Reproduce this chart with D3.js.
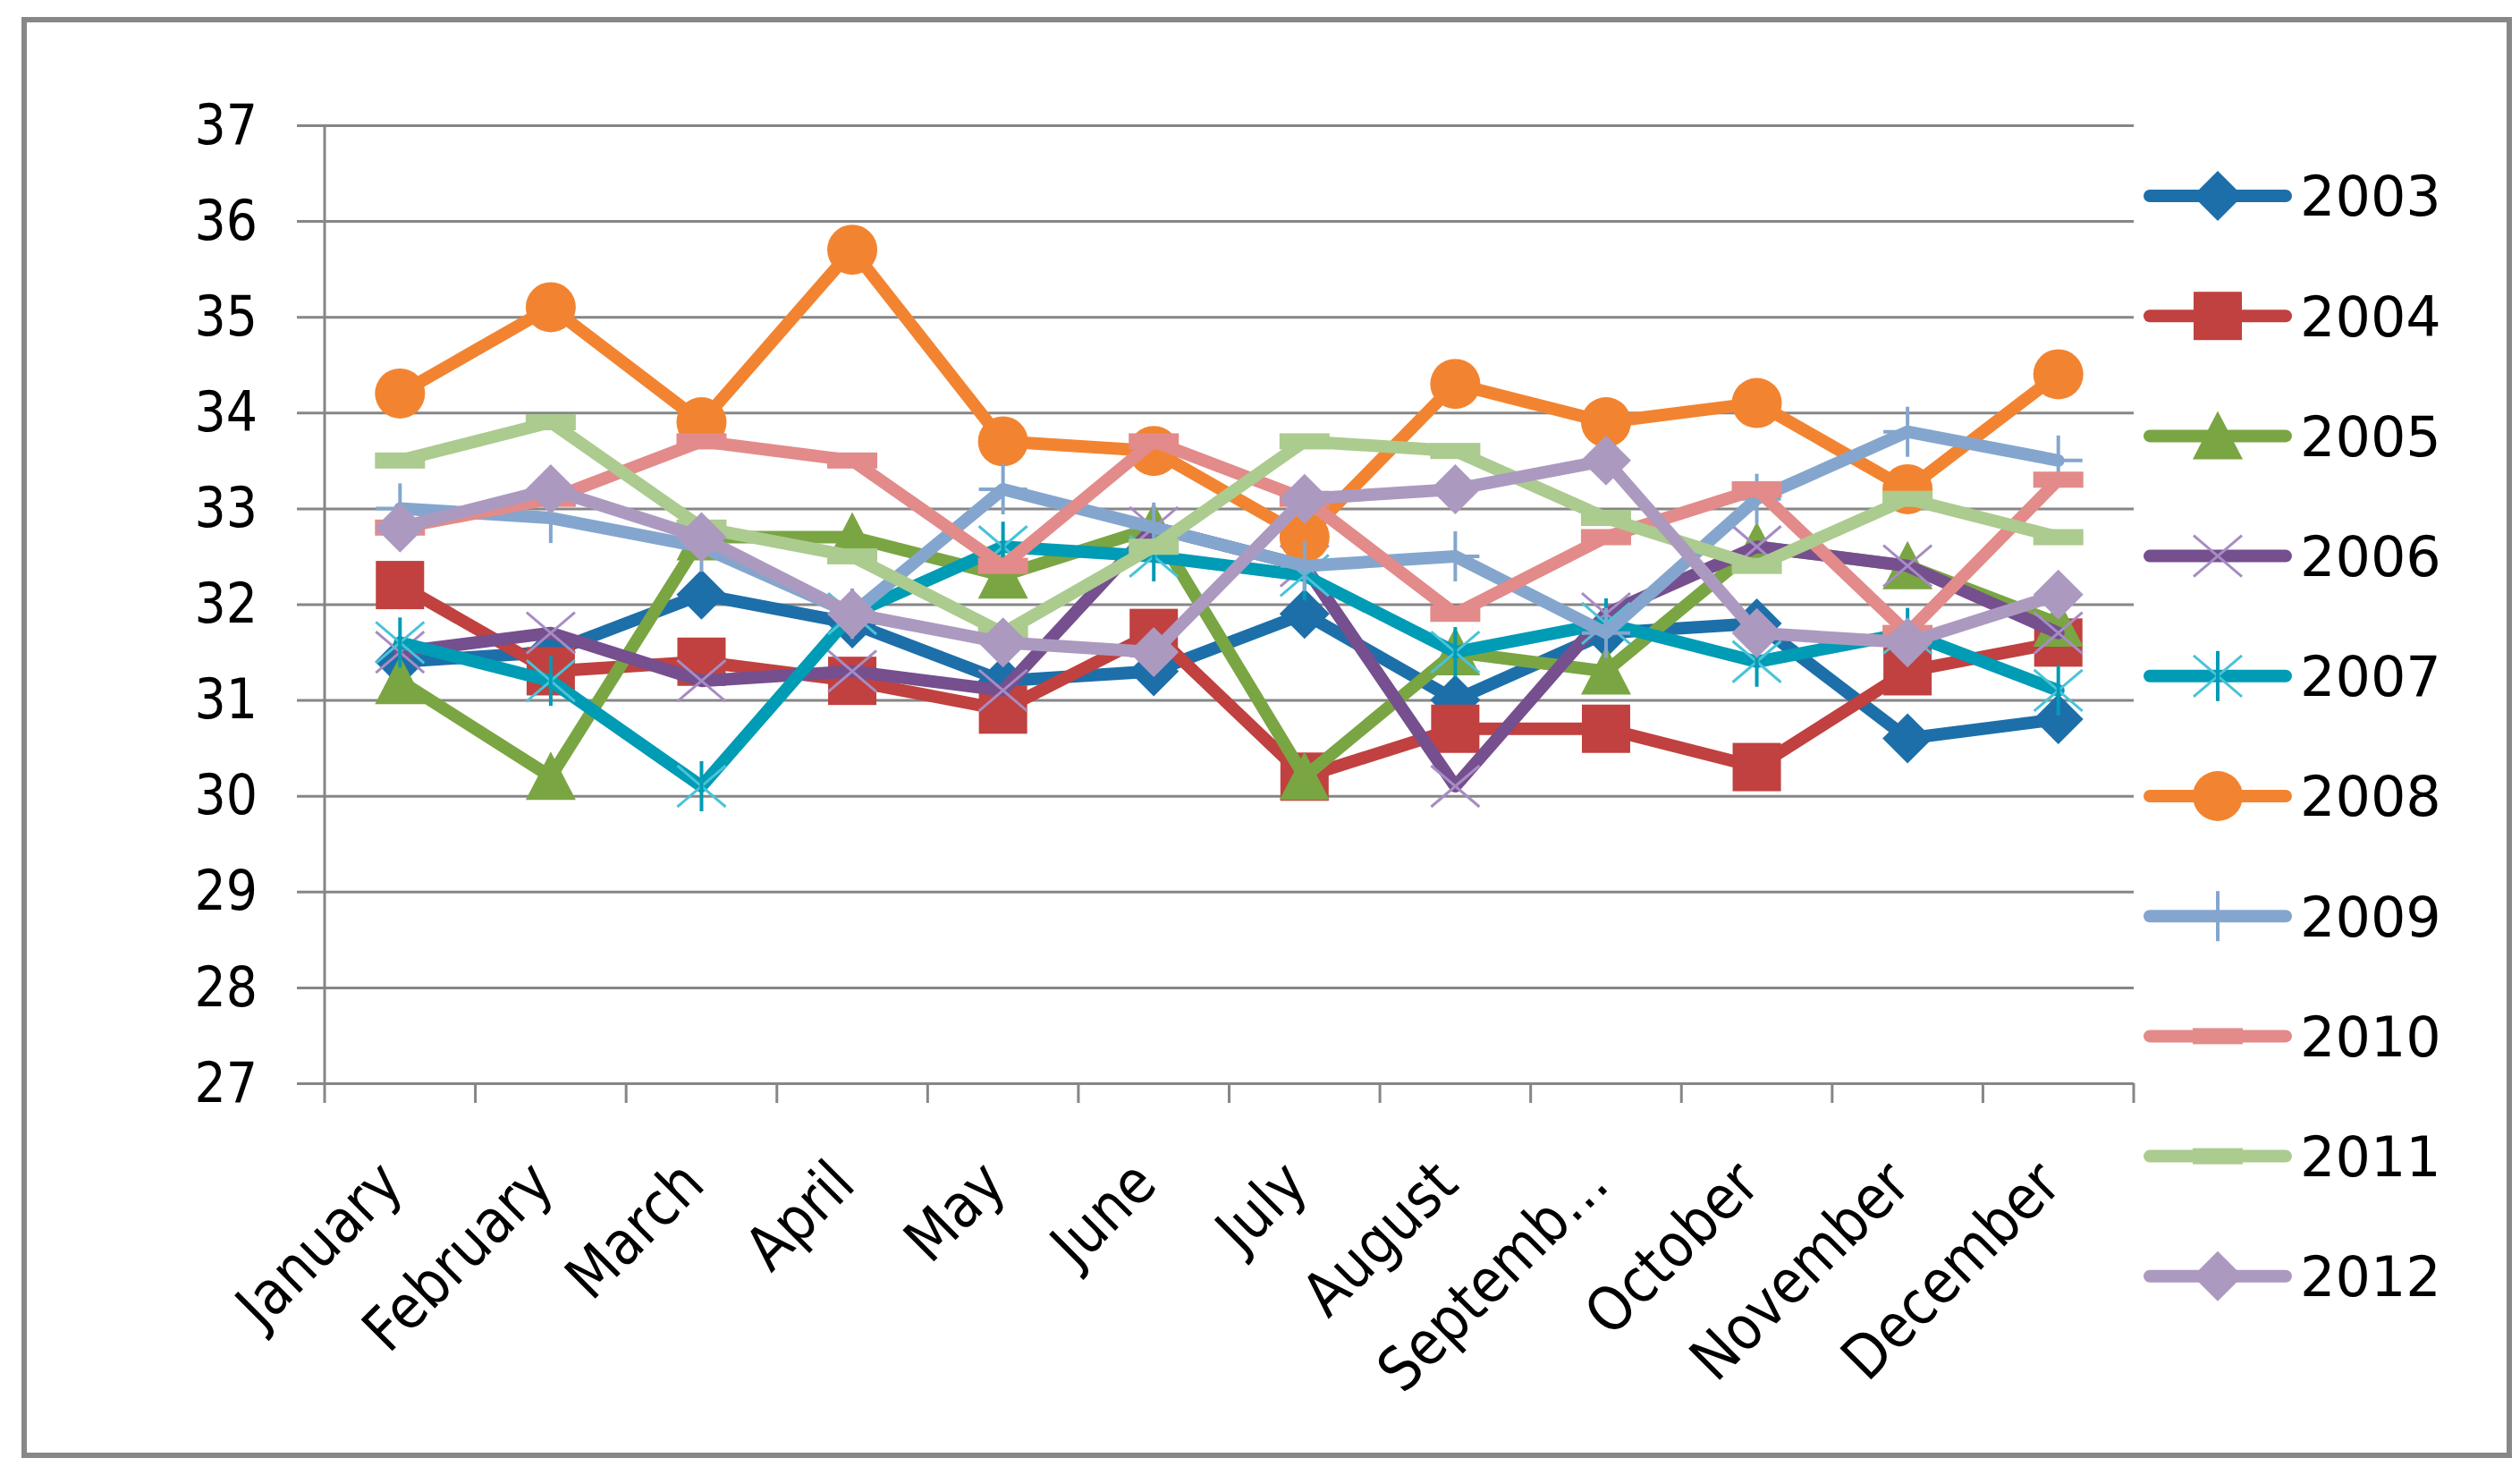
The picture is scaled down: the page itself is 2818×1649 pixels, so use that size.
<!DOCTYPE html>
<html>
<head>
<meta charset="utf-8">
<script src="https://cdn.jsdelivr.net/npm/d3@7"></script>
<style>
    body { margin: 0; background: #fff; }
    text { font-family: "DejaVu Sans", sans-serif; fill: #000; }
</style>
</head>
<body>
<svg id="chart"></svg>
<script>
// Chart data
const months = ["January", "February", "March", "April", "May", "June", "July",
    "August", "September", "October", "November", "December"];
const monthLabels = ["January", "February", "March", "April", "May", "June", "July",
    "August", "Septemb\u2026", "October", "November", "December"];
const years = ["2003", "2004", "2005", "2006", "2007", "2008", "2009", "2010", "2011", "2012"];
const yTicks = [27, 28, 29, 30, 31, 32, 33, 34, 35, 36, 37];

const v2003 = [31.4, 31.5, 32.1, 31.8, 31.2, 31.3, 31.9, 31.0, 31.7, 31.8, 30.6, 30.8];
const v2004 = [32.2, 31.3, 31.4, 31.2, 30.9, 31.7, 30.2, 30.7, 30.7, 30.3, 31.3, 31.6];
const v2005 = [31.2, 30.2, 32.7, 32.7, 32.3, 32.8, 30.2, 31.5, 31.3, 32.6, 32.4, 31.8];
const v2006 = [31.5, 31.7, 31.2, 31.3, 31.1, 32.8, 32.4, 30.1, 31.9, 32.6, 32.4, 31.7];
const v2007 = [31.6, 31.2, 30.1, 31.9, 32.6, 32.5, 32.3, 31.5, 31.8, 31.4, 31.7, 31.1];
const v2008 = [34.2, 35.1, 33.9, 35.7, 33.7, 33.6, 32.7, 34.3, 33.9, 34.1, 33.2, 34.4];
const v2009 = [33.0, 32.9, 32.6, 31.9, 33.2, 32.8, 32.4, 32.5, 31.7, 33.1, 33.8, 33.5];
const v2010 = [32.8, 33.1, 33.7, 33.5, 32.4, 33.7, 33.1, 31.9, 32.7, 33.2, 31.7, 33.3];
const v2011 = [33.5, 33.9, 32.8, 32.5, 31.7, 32.6, 33.7, 33.6, 32.9, 32.4, 33.1, 32.7];
const v2012 = [32.8, 33.2, 32.7, 31.9, 31.6, 31.5, 33.1, 33.2, 33.5, 31.7, 31.6, 32.1];

const seriesValues = [v2003, v2004, v2005, v2006, v2007, v2008, v2009, v2010, v2011, v2012];
const colors = ["#1d6fa9", "#c0413f", "#7aa543", "#764f8f", "#009bb5",
    "#f28431", "#84a6ce", "#e28b8a", "#abcb8f", "#ac99c0"];
const lightColors = ["#1d6fa9", "#c0413f", "#7aa543", "#a68cc4", "#49c3d8",
    "#f28431", "#84a6ce", "#e28b8a", "#abcb8f", "#ac99c0"];
const markerTypes = ["diamond", "square", "triangle", "x", "star",
    "circle", "plus", "dash", "dash", "diamond"];

const width = 2818, height = 1649;
const plot = { left: 363, right: 2386, top: 140, bottom: 1211 };

const svg = d3.select("#chart")
    .attr("width", width)
    .attr("height", height);

// Outer frame
svg.append("rect")
    .attr("x", 27).attr("y", 22)
    .attr("width", 2779).attr("height", 1605)
    .attr("fill", "#fff")
    .attr("stroke", "#878787")
    .attr("stroke-width", 6);

const x = d3.scaleBand().domain(months).range([plot.left, plot.right]);
const y = d3.scaleLinear().domain([27, 37]).range([plot.bottom, plot.top]);
const cx = m => x(m) + x.bandwidth() / 2;

// Gridlines + y labels
const yAxis = d3.axisLeft(y)
    .tickValues(yTicks)
    .tickSizeInner(-(plot.right - plot.left))
    .tickSizeOuter(0)
    .tickPadding(0)
    .tickFormat(d3.format("d"));

const yG = svg.append("g")
    .attr("transform", `translate(${plot.left},0)`)
    .call(yAxis);
yG.select(".domain").remove();
yG.selectAll(".tick line")
    .attr("x1", -31)
    .attr("stroke", "#868686")
    .attr("stroke-width", 3);
// slightly condensed digits, right edge at x=288
yG.selectAll(".tick text")
    .attr("x", 0)
    .attr("transform", "translate(-75,0) scale(0.88,1)")
    .style("font-size", "63px")
    .attr("fill", "#000");

// Vertical axis line
svg.append("line")
    .attr("x1", plot.left).attr("x2", plot.left)
    .attr("y1", plot.top).attr("y2", plot.bottom)
    .attr("stroke", "#868686")
    .attr("stroke-width", 3);

// X axis: ticks between categories, rotated labels
const xBounds = months.map(m => x(m)).concat([plot.right]);
svg.append("g").selectAll("line")
    .data(xBounds)
    .enter()
    .append("line")
    .attr("x1", d => d).attr("x2", d => d)
    .attr("y1", plot.bottom).attr("y2", plot.bottom + 22)
    .attr("stroke", "#868686")
    .attr("stroke-width", 3);

svg.append("g").selectAll("text")
    .data(months)
    .enter()
    .append("text")
    .attr("text-anchor", "end")
    .attr("transform", m => `translate(${cx(m) + 6},${plot.bottom + 116}) rotate(-45) scale(0.95,1.08)`)
    .style("font-size", "63px")
    .text((m, i) => monthLabels[i]);

// Marker drawing
function drawMarker(g, type, color, light, px, py) {
    if (type === "diamond") {
        g.append("path")
            .attr("d", `M${px},${py - 28}L${px + 28},${py}L${px},${py + 28}L${px - 28},${py}Z`)
            .attr("fill", color);
    } else if (type === "square") {
        g.append("rect")
            .attr("x", px - 27).attr("y", py - 27)
            .attr("width", 54).attr("height", 54)
            .attr("fill", color);
    } else if (type === "triangle") {
        g.append("path")
            .attr("d", `M${px},${py - 28}L${px + 28},${py + 26}L${px - 28},${py + 26}Z`)
            .attr("fill", color);
    } else if (type === "circle") {
        g.append("circle")
            .attr("cx", px).attr("cy", py).attr("r", 28)
            .attr("fill", color);
    } else if (type === "dash") {
        g.append("rect")
            .attr("x", px - 28).attr("y", py - 9)
            .attr("width", 56).attr("height", 18)
            .attr("fill", color);
    } else {
        const segs = [];
        if (type === "x" || type === "star") {
            segs.push([px - 27, py - 23, px + 27, py + 23, light, 3]);
            segs.push([px - 27, py + 23, px + 27, py - 23, light, 3]);
        }
        if (type === "star" || type === "plus") {
            segs.push([px, py - 28, px, py + 28, color, 4]);
        }
        if (type === "plus") {
            segs.push([px - 27, py, px + 27, py, color, 4]);
        }
        segs.forEach(s => {
            g.append("line")
                .attr("x1", s[0]).attr("y1", s[1])
                .attr("x2", s[2]).attr("y2", s[3])
                .attr("stroke", s[4])
                .attr("stroke-width", s[5]);
        });
    }
}

// Series
const line = d3.line()
    .x((d, i) => cx(months[i]))
    .y(d => y(d));

seriesValues.forEach((vals, si) => {
    const g = svg.append("g").attr("class", "series-" + years[si]);
    g.append("path")
        .datum(vals)
        .attr("d", line)
        .attr("fill", "none")
        .attr("stroke", colors[si])
        .attr("stroke-width", 14)
        .attr("stroke-linejoin", "round")
        .attr("stroke-linecap", "round");
    vals.forEach((v, i) => {
        drawMarker(g, markerTypes[si], colors[si], lightColors[si], cx(months[i]), y(v));
    });
});

// Legend
const legend = svg.append("g");
years.forEach((yr, i) => {
    const ly = 219 + i * 134.2;
    const item = legend.append("g").attr("class", "legend-item");
    item.append("line")
        .attr("x1", 2404).attr("x2", 2556)
        .attr("y1", ly).attr("y2", ly)
        .attr("stroke", colors[i])
        .attr("stroke-width", 14)
        .attr("stroke-linecap", "round");
    drawMarker(item, markerTypes[i], colors[i], lightColors[i], 2480, ly);
    item.append("text")
        .attr("x", 2572)
        .attr("y", ly)
        .attr("dy", "0.36em")
        .style("font-size", "62px")
        .text(yr);
});
</script>
</body>
</html>
